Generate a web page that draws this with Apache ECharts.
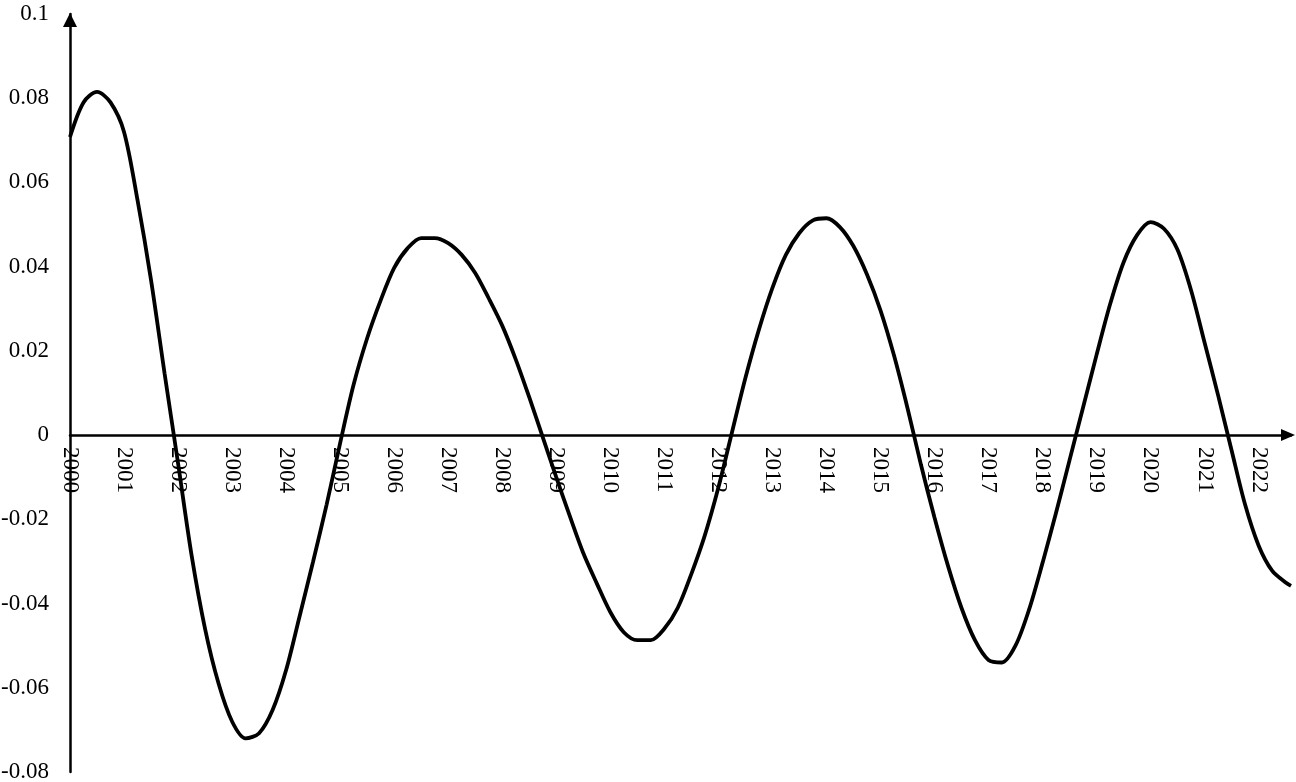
<!DOCTYPE html>
<html>
<head>
<meta charset="utf-8">
<script src="https://cdn.jsdelivr.net/npm/echarts@6/dist/echarts.min.js"></script>
<style>
html,body{margin:0;padding:0;background:#fff;}
#chart{width:1296px;height:782px;}
</style>
</head>
<body>
<div id="chart"></div>
<script>
// Quarterly time points (years)
const periods = [
  2000.00,2000.25,2000.50,2000.75,2001.00,2001.25,2001.50,2001.75,
  2002.00,2002.25,2002.50,2002.75,2003.00,2003.25,2003.50,2003.75,
  2004.00,2004.25,2004.50,2004.75,2005.00,2005.25,2005.50,2005.75,
  2006.00,2006.25,2006.50,2006.75,2007.00,2007.25,2007.50,2007.75,
  2008.00,2008.25,2008.50,2008.75,2009.00,2009.25,2009.50,2009.75,
  2010.00,2010.25,2010.50,2010.75,2011.00,2011.25,2011.50,2011.75,
  2012.00,2012.25,2012.50,2012.75,2013.00,2013.25,2013.50,2013.75,
  2014.00,2014.25,2014.50,2014.75,2015.00,2015.25,2015.50,2015.75,
  2016.00,2016.25,2016.50,2016.75,2017.00,2017.25,2017.50,2017.75,
  2018.00,2018.25,2018.50,2018.75,2019.00,2019.25,2019.50,2019.75,
  2020.00,2020.25,2020.50,2020.75,2021.00,2021.25,2021.50,2021.75,
  2022.00,2022.25,2022.50,2022.60
];
// Cycle values
const cycle = [
  0.0708,0.0790,0.0815,0.0790,0.0720,0.0558,0.0368,0.0147,
  -0.0067,-0.0285,-0.0460,-0.0590,-0.0680,-0.0720,-0.0708,-0.0653,
  -0.0558,-0.0430,-0.0300,-0.0165,-0.0019,0.0120,0.0230,0.0320,
  0.0397,0.0444,0.0468,0.0468,0.0456,0.0428,0.0385,0.0325,
  0.0260,0.0180,0.0090,-0.0005,-0.0100,-0.0192,-0.0280,-0.0352,
  -0.0420,-0.0468,-0.0487,-0.0487,-0.0460,-0.0410,-0.0330,-0.0238,
  -0.0125,0.0005,0.0135,0.0250,0.0349,0.0428,0.0480,0.0510,
  0.0515,0.0494,0.0449,0.0382,0.0297,0.0190,0.0065,-0.0070,
  -0.0195,-0.0310,-0.0410,-0.0487,-0.0534,-0.0540,-0.0500,-0.0415,
  -0.0304,-0.0185,-0.0060,0.0065,0.0190,0.0310,0.0410,0.0475,
  0.0506,0.0490,0.0440,0.0344,0.0220,0.0095,-0.0036,-0.0165,
  -0.0262,-0.0322,-0.0350,-0.0358
];
const yearTicks = [2000,2001,2002,2003,2004,2005,2006,2007,2008,2009,2010,2011,2012,2013,2014,2015,2016,2017,2018,2019,2020,2021,2022];
const yTicks = [-0.08,-0.06,-0.04,-0.02,0,0.02,0.04,0.06,0.08,0.1];

const font = "'Liberation Serif','Times New Roman',serif";
const chart = echarts.init(document.getElementById('chart'), null, {renderer:'canvas'});
chart.setOption({
  animation:false,
  backgroundColor:'#fff',
  grid:{left:70,right:5,top:14,bottom:10,containLabel:false,outerBoundsMode:'none'},
  xAxis:{
    type:'value',
    min:yearTicks[0],
    max:2022.6,
    interval:1,
    offset:-337,
    splitLine:{show:false},
    axisTick:{show:false},
    axisLine:{onZero:false,symbol:['none','triangle'],symbolSize:[12,14],symbolOffset:[0,-3],lineStyle:{color:'#000',width:2.5}},
    axisLabel:{
      rotate:-90,margin:12,color:'#000',fontFamily:font,fontSize:23,
      formatter:function(v){return yearTicks.indexOf(Math.round(v*1000)/1000)>=0 ? String(Math.round(v)) : '';}
    }
  },
  yAxis:{
    type:'value',
    min:yTicks[0],
    max:yTicks[yTicks.length-1],
    interval:0.02,
    splitLine:{show:false},
    axisTick:{show:false},
    axisLine:{show:true,onZero:false,symbol:['none','triangle'],symbolSize:[14,14],symbolOffset:[0,-6],lineStyle:{color:'#000',width:2.5}},
    axisLabel:{
      margin:21,color:'#000',fontFamily:font,fontSize:23,
      formatter:function(v){return String(Math.round(v*100)/100);}
    }
  },
  series:[{
    type:'line',
    data:periods.map((p,i)=>[p,cycle[i]]),
    showSymbol:false,
    smooth:0.3,
    clip:false,
    lineStyle:{color:'#000',width:3.8},
    itemStyle:{color:'#000'}
  }]
});
</script>
</body>
</html>
